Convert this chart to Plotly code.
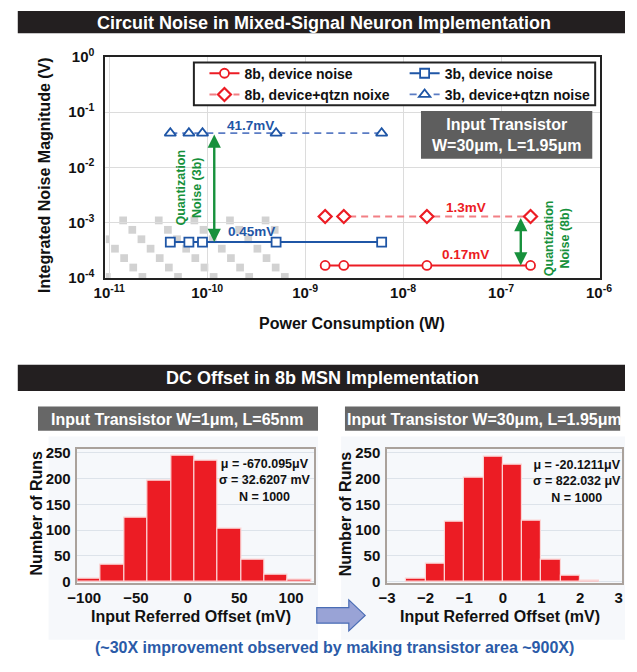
import math
import plotly.graph_objects as go

W, H = 637, 672
FN = "Liberation Sans, Arial, Helvetica, sans-serif"

# ---------------- data: noise vs power ----------------
p_8b = [1.60e-9, 2.48e-9, 1.75e-8, 2.0e-7]
noise_8b_dev = [1.7e-4, 1.7e-4, 1.7e-4, 1.7e-4]
noise_8b_tot = [1.3e-3, 1.3e-3, 1.3e-3, 1.3e-3]
p_3b = [4.2e-11, 6.5e-11, 8.95e-11, 5.05e-10, 6.04e-9]
noise_3b_dev = [4.5e-4, 4.5e-4, 4.5e-4, 4.5e-4, 4.5e-4]
noise_3b_tot = [4.17e-2, 4.17e-2, 4.17e-2, 4.17e-2, 4.17e-2]
series_names = ["8b, device noise", "8b, device+qtzn noixe", "3b, device noise", "3b, device+qtzn noise"]
y_tickvals = [1e-4, 1e-3, 1e-2, 1e-1, 1]
y_ticktext = ["10<sup>-4</sup>", "10<sup>-3</sup>", "10<sup>-2</sup>", "10<sup>-1</sup>", "10<sup>0</sup>"]
x_tickvals = [1e-11, 1e-10, 1e-9, 1e-8, 1e-7, 1e-6]
x_ticktext = ["10<sup>-11</sup>", "10<sup>-10</sup>", "10<sup>-9</sup>", "10<sup>-8</sup>", "10<sup>-7</sup>", "10<sup>-6</sup>"]
arrow_3b = (1.18e-10, 4.17e-2, 4.5e-4)
arrow_8b = (1.59e-7, 1.3e-3, 1.7e-4)

# ---------------- data: DC offset histograms ----------------
bins_left = [-95.2, -72.6, -50.0, -27.4, -4.8, 17.8, 40.4, 63.0, 85.6, 108.2]
counts_left = [6, 33, 124, 196, 244, 235, 103, 43, 13, 3]
bins_right = [-2.25, -1.75, -1.25, -0.75, -0.25, 0.25, 0.75, 1.25, 1.75, 2.25]
counts_right = [5, 34, 116, 202, 243, 226, 118, 43, 11, 2]
left_ticks = [-100, -50, 0, 50, 100]
right_ticks = [-3, -2, -1, 0, 1, 2, 3]
count_ticks = [0, 50, 100, 150, 200, 250]

RED = "#ec1c24"
BLUE = "#1f56a6"
GREEN = "#17913c"


def px(x):
    return x / W


def py(y):
    return 1 - y / H


fig = go.Figure()

fig.add_trace(go.Scatter(x=p_8b, y=noise_8b_dev, name=series_names[0], mode="lines+markers",
                         line=dict(color=RED, width=2),
                         marker=dict(symbol="circle", size=9, color="white", line=dict(color=RED, width=1.8)),
                         legend="legend", xaxis="x", yaxis="y"))
fig.add_trace(go.Scatter(x=p_8b, y=noise_8b_tot, name=series_names[1], mode="lines+markers",
                         line=dict(color="#f27f84", width=2, dash="7px,5px"),
                         marker=dict(symbol="diamond", size=10, color="white", line=dict(color=RED, width=2.2)),
                         legend="legend", xaxis="x", yaxis="y"))
fig.add_trace(go.Scatter(x=p_3b, y=noise_3b_dev, name=series_names[2], mode="lines+markers",
                         line=dict(color=BLUE, width=2),
                         marker=dict(symbol="square", size=9, color="white", line=dict(color=BLUE, width=1.8)),
                         legend="legend2", xaxis="x", yaxis="y"))
fig.add_trace(go.Scatter(x=p_3b, y=noise_3b_tot, name=series_names[3], mode="lines+markers",
                         line=dict(color="#5b7cc4", width=1.8, dash="7px,5px"),
                         marker=dict(symbol="triangle-up", size=10, color="white", line=dict(color=BLUE, width=1.8)),
                         legend="legend2", xaxis="x", yaxis="y"))

fig.add_trace(go.Bar(x=bins_left, y=counts_left, width=22.6, marker=dict(color=RED, line=dict(color="#fbd3d3", width=1.2)),
                     showlegend=False, xaxis="x2", yaxis="y2"))
fig.add_trace(go.Bar(x=bins_right, y=counts_right, width=0.5, marker=dict(color=RED, line=dict(color="#fbd3d3", width=1.2)),
                     showlegend=False, xaxis="x3", yaxis="y3"))

tickfont = dict(family=FN, size=15, color="#111111", weight="bold")
hfont = dict(family=FN, size=15, color="#111111", weight="bold")

shapes = []
annotations = []

# faint panel backgrounds
shapes.append(dict(type="rect", xref="paper", yref="paper", x0=px(38), x1=px(318), y0=py(647), y1=py(438),
                   fillcolor="#f6f8fb", line=dict(width=0), layer="below"))
shapes.append(dict(type="rect", xref="paper", yref="paper", x0=px(342), x1=px(637), y0=py(647), y1=py(438),
                   fillcolor="#f6f8fb", line=dict(width=0), layer="below"))

# checker decoration in top plot
for r in range(7):
    y0 = 211.5 + r * 9.7
    y1 = min(y0 + 8, 275)
    for k in range(-2, 7):
        x0 = 111.5 + r * 9.5 + k * 37
        x1 = x0 + 8
        if x1 <= 97 or x0 > 265 + (y0 - 212) * 0.5:
            continue
        shapes.append(dict(type="rect", xref="paper", yref="paper", x0=px(max(x0, 97.5)), x1=px(x1),
                           y0=py(y1), y1=py(y0), fillcolor="#d2d2d2", line=dict(width=0), layer="below"))

# title bars
shapes.append(dict(type="rect", xref="paper", yref="paper", x0=px(6), x1=px(637), y0=py(23), y1=py(0),
                   fillcolor="#231f20", line=dict(width=0)))
shapes.append(dict(type="rect", xref="paper", yref="paper", x0=px(6), x1=px(637), y0=py(391), y1=py(364),
                   fillcolor="#231f20", line=dict(width=0)))
shapes.append(dict(type="rect", xref="paper", yref="paper", x0=px(27), x1=px(318), y0=py(432), y1=py(407),
                   fillcolor="#676767", line=dict(width=0)))
shapes.append(dict(type="rect", xref="paper", yref="paper", x0=px(346), x1=px(632), y0=py(432), y1=py(407),
                   fillcolor="#676767", line=dict(width=0)))
# gray info box
shapes.append(dict(type="rect", xref="paper", yref="paper", x0=px(425), x1=px(603), y0=py(152), y1=py(103),
                   fillcolor="#5e5e5e", line=dict(width=0)))
# legend frame
shapes.append(dict(type="rect", xref="paper", yref="paper", x0=px(189), x1=px(606), y0=py(97), y1=py(53),
                   fillcolor="white", line=dict(color="#222222", width=2), layer="above"))
# block arrow
bx = [316.7, 350, 350, 367, 350, 350, 316.7]
by = [614, 614, 606, 622, 638, 630, 630]
path = "M " + " L ".join(f"{px(a):.5f},{py(b):.5f}" for a, b in zip(bx, by)) + " Z"
shapes.append(dict(type="path", xref="paper", yref="paper", path=path, fillcolor="#99a3d6",
                   line=dict(color="#4a6db5", width=1.2)))


def ann(text, x, y, size, color="#111111", **kw):
    d = dict(text=text, x=px(x), y=py(y), xref="paper", yref="paper", showarrow=False,
             font=dict(family=FN, size=size, color=color, weight="bold"), xanchor="center", yanchor="middle")
    d.update(kw)
    annotations.append(d)


ann("Circuit Noise in Mixed-Signal Neuron Implementation", 324, 12, 18, "white")
ann("DC Offset in 8b MSN Implementation", 323, 377.5, 18, "white")
ann("Input Transistor W=1μm, L=65nm", 172, 420, 16, "white")
ann("Input Transistor W=30μm, L=1.95μm", 491, 420, 16, "white")
ann("Input Transistor<br>W=30μm, L=1.95μm", 514, 128, 16, "white")
ann("Integrated Noise Magnitude (V)", 33, 169, 16, textangle=-90)
ann("Power Consumption (W)", 353, 322, 16)
ann("Number of Runs", 25, 517, 16, textangle=-90)
ann("Number of Runs", 346, 517, 16, textangle=-90)
ann("Input Referred Offset (mV)", 186, 623, 16)
ann("Input Referred Offset (mV)", 507, 623, 16)
ann("μ = -670.095μV<br>σ = 32.6207 mV<br>N = 1000", 263, 483, 12.5)
ann("μ = -20.1211μV<br>σ = 822.032 μV<br>N = 1000", 587, 484, 12.5)
ann("(~30X improvement observed by making transistor area ~900X)", 335, 655, 16, "#2b5ba8")


def dann(text, xv, yv, size, color, **kw):
    d = dict(text=text, x=math.log10(xv), y=math.log10(yv), xref="x", yref="y", showarrow=False,
             font=dict(family=FN, size=size, color=color, weight="bold"), xanchor="center", yanchor="middle")
    d.update(kw)
    annotations.append(d)


dann("41.7mV", 10 ** -9.56, 10 ** -1.24, 13.5, BLUE)
dann("0.45mV", 10 ** -9.55, 10 ** -3.15, 13.5, BLUE)
dann("1.3mV", 10 ** -7.36, 10 ** -2.72, 13.5, RED)
dann("0.17mV", 10 ** -7.36, 10 ** -3.57, 13.5, RED)
dann("Quantization<br>Noise (3b)", 10 ** -10.19, 10 ** -2.37, 12.5, GREEN, textangle=-90)
dann("Quantization<br>Noise (8b)", 10 ** -6.43, 10 ** -3.28, 12.5, GREEN, textangle=-90)

for xa, ytop, ybot in (arrow_3b, arrow_8b):
    annotations.append(dict(x=math.log10(xa), y=math.log10(ybot), ax=math.log10(xa), ay=math.log10(ytop),
                            xref="x", yref="y", axref="x", ayref="y", text="", showarrow=True,
                            arrowhead=2, arrowside="end+start", arrowsize=1.1, arrowwidth=2.4,
                            arrowcolor=GREEN, standoff=0, startstandoff=0))

legend_common = dict(bgcolor="rgba(0,0,0,0)", borderwidth=0, font=dict(family=FN, size=14, color="#111111", weight="bold"),
                     xanchor="left", yanchor="top", tracegroupgap=0, itemwidth=30)

fig.update_layout(
    width=W, height=H, margin=dict(l=0, r=0, t=0, b=0),
    paper_bgcolor="white", plot_bgcolor="white", bargap=0,
    showlegend=True,
    legend=dict(x=px(200), y=py(48), **legend_common),
    legend2=dict(x=px(408), y=py(48), **legend_common),
    xaxis=dict(type="log", domain=[px(97), px(611)], range=[-11.04, -5.99], tickvals=x_tickvals, ticktext=x_ticktext,
               showgrid=True, gridcolor="#dcdcdc", gridwidth=1, showline=True, mirror=True, linecolor="#222222",
               linewidth=2, ticks="", tickfont=tickfont, anchor="y", zeroline=False),
    yaxis=dict(type="log", domain=[py(275), py(47)], range=[-4, 0], tickvals=y_tickvals, ticktext=y_ticktext,
               showgrid=True, gridcolor="#dcdcdc", gridwidth=1, showline=True, mirror=True, linecolor="#222222",
               linewidth=2, ticks="", tickfont=tickfont, anchor="x", ticklabelstandoff=6, zeroline=False),
    xaxis2=dict(domain=[px(68), px(314)], range=[-106.5, 122.3], tickvals=left_ticks, showgrid=False,
                showline=True, mirror=True, linecolor="#aaa29c", linewidth=1.5, ticks="", tickfont=hfont,
                anchor="y2", zeroline=False),
    yaxis2=dict(domain=[py(589), py(450.5)], range=[-3.5, 258], tickvals=count_ticks, showgrid=True,
                gridcolor="#dde3ea", showline=True, mirror=True, linecolor="#aaa29c", linewidth=1.5, ticks="",
                tickfont=hfont, anchor="x2", zeroline=False, ticklabelstandoff=2),
    xaxis3=dict(domain=[px(389.7), px(633.7)], range=[-3, 3.08], tickvals=right_ticks, showgrid=False,
                showline=True, mirror=True, linecolor="#aaa29c", linewidth=1.5, ticks="", tickfont=hfont,
                anchor="y3", zeroline=False),
    yaxis3=dict(domain=[py(589), py(450.5)], range=[-3.5, 258], tickvals=count_ticks, showgrid=True,
                gridcolor="#dde3ea", showline=True, mirror=True, linecolor="#aaa29c", linewidth=1.5, ticks="",
                tickfont=hfont, anchor="x3", zeroline=False, ticklabelstandoff=2),
    shapes=shapes,
    annotations=annotations,
)

fig.write_html("out.html", config={"displayModeBar": False},
               post_script="document.body.style.margin='0px';document.body.style.overflow='hidden';")
